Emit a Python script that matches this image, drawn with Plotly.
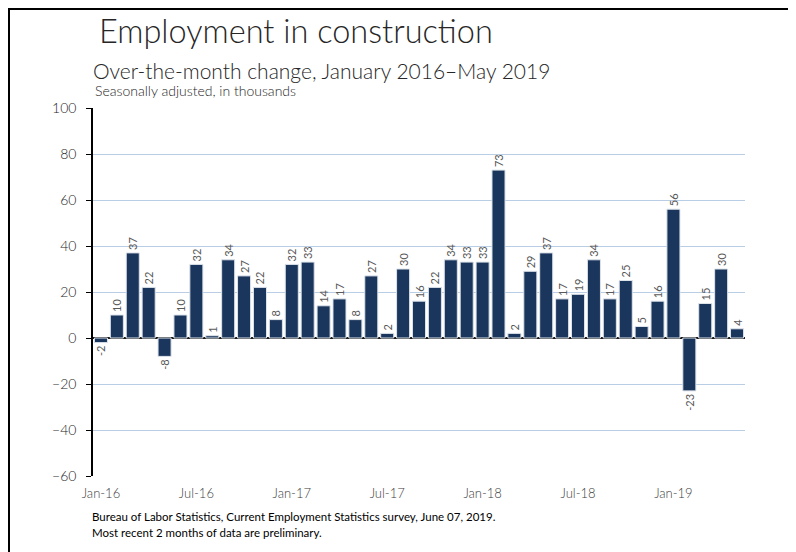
import plotly.graph_objects as go

# Over-the-month change in construction employment, thousands (Jan 2016 - May 2019)
meses = [
    "Jan-16", "Feb-16", "Mar-16", "Apr-16", "May-16", "Jun-16", "Jul-16", "Aug-16", "Sep-16", "Oct-16", "Nov-16", "Dec-16",
    "Jan-17", "Feb-17", "Mar-17", "Apr-17", "May-17", "Jun-17", "Jul-17", "Aug-17", "Sep-17", "Oct-17", "Nov-17", "Dec-17",
    "Jan-18", "Feb-18", "Mar-18", "Apr-18", "May-18", "Jun-18", "Jul-18", "Aug-18", "Sep-18", "Oct-18", "Nov-18", "Dec-18",
    "Jan-19", "Feb-19", "Mar-19", "Apr-19", "May-19",
]
variacao = [
    -2, 10, 37, 22, -8, 10, 32, 1, 34, 27, 22, 8,
    32, 33, 14, 17, 8, 27, 2, 30, 16, 22, 34, 33,
    33, 73, 2, 29, 37, 17, 19, 34, 17, 25, 5, 16,
    56, -23, 15, 30, 4,
]
ticks_x = ["Jan-16", "Jul-16", "Jan-17", "Jul-17", "Jan-18", "Jul-18", "Jan-19"]

AZUL = "#1b365d"
GRID = "#b9cde5"
FONTE = "Lato, 'Open Sans', sans-serif"

# área do gráfico na janela (a página tem 8px de margem no body)
ESQ, DIR, TOPO, BASE = 93, 745, 108, 476
OFF = 8
W, H = DIR - ESQ, BASE - TOPO


def px(x):
    return (x - ESQ) / W


def py(y):
    return (BASE - y) / H


posicoes = list(range(len(meses)))

fig = go.Figure()
fig.add_trace(go.Bar(
    x=posicoes, y=variacao,
    marker=dict(color=AZUL, line=dict(color="#dde3ea", width=1)),
    text=[str(v) for v in variacao], textposition="outside",
    textangle=-90, constraintext="none", cliponaxis=False,
    textfont=dict(family=FONTE, size=11, color="#595959"),
    hovertext=meses, hoverinfo="text+y",
))

# ── Layout ───────────────────────────────────────────────────────────────
fig.update_layout(
    width=796 - OFF, height=552 - OFF,
    paper_bgcolor="white", plot_bgcolor="white",
    margin=dict(l=ESQ - OFF, r=796 - DIR, t=TOPO - OFF, b=552 - BASE),
    bargap=0.18, showlegend=False,
    font=dict(family=FONTE, color="#404040"),
)
fig.update_xaxes(
    range=[-0.5, len(meses) - 0.5],
    tickvals=[meses.index(t) for t in ticks_x], ticktext=ticks_x,
    showgrid=False, showline=False, ticks="", ticklabelstandoff=8,
    tickfont=dict(size=13, color="#404040", weight=300),
)
fig.update_yaxes(
    range=[-60, 100], dtick=20,
    showgrid=True, gridcolor=GRID, gridwidth=1,
    zeroline=True, zerolinecolor="#1a1a1a", zerolinewidth=1.5,
    showline=True, linecolor="black", linewidth=1.5,
    ticks="outside", ticklen=5, tickwidth=1.2, tickcolor="black", ticksuffix="\u2002",
    tickfont=dict(size=14, color="#262626", weight=300),
)

# moldura (apenas topo e esquerda visíveis na imagem)
fig.add_shape(type="rect", xref="paper", yref="paper",
              x0=px(9), x1=px(900), y0=py(700), y1=py(9),
              line=dict(color="black", width=2), layer="below")

# ── Títulos e notas ──────────────────────────────────────────────────────
fig.add_annotation(text="Employment in construction", xref="paper", yref="paper",
                   x=px(97), y=py(31), xanchor="left", yanchor="middle", showarrow=False,
                   font=dict(family=FONTE, size=32.5, color="#262626", weight=300))
fig.add_annotation(text="Over-the-month change, January 2016\u2013May 2019", xref="paper", yref="paper",
                   x=px(91), y=py(71), xanchor="left", yanchor="middle", showarrow=False,
                   font=dict(family=FONTE, size=21, color="#262626", weight=300))
fig.add_annotation(text="Seasonally adjusted, in thousands", xref="paper", yref="paper",
                   x=px(93), y=py(91), xanchor="left", yanchor="middle", showarrow=False,
                   font=dict(family=FONTE, size=14, color="#262626", weight=300))
fig.add_annotation(text="Bureau of Labor Statistics, Current Employment Statistics survey, June 07, 2019.",
                   xref="paper", yref="paper", x=px(90), y=py(517), xanchor="left", yanchor="middle",
                   showarrow=False, font=dict(family=FONTE, size=11.5, color="black"))
fig.add_annotation(text="Most recent 2 months of data are preliminary.",
                   xref="paper", yref="paper", x=px(90), y=py(532), xanchor="left", yanchor="middle",
                   showarrow=False, font=dict(family=FONTE, size=11.5, color="black"))

fig.write_html("out.html")
